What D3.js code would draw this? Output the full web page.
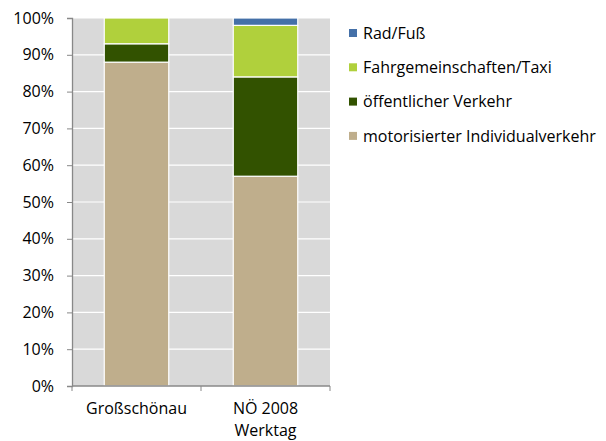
<!DOCTYPE html>
<html><head><meta charset="utf-8">
<script src="https://cdn.jsdelivr.net/npm/d3@7"></script>
<style>body{margin:0;background:#fff;}svg{display:block;font-family:"Open Sans",sans-serif;}</style>
</head><body><svg id="c" width="606" height="441"></svg>
<script>
const categories = [["Großschönau"], ["NÖ 2008", "Werktag"]];
const seriesNames = ["motorisierter Individualverkehr", "öffentlicher Verkehr", "Fahrgemeinschaften/Taxi", "Rad/Fuß"];
const seriesColors = ["#BFAE8C", "#325200", "#B0D03C", "#4470A8"];
const mivValues = [88, 57];
const oevValues = [5, 27];
const fahrValues = [7, 14];
const radValues = [0, 2];
const yTicks = [0, 10, 20, 30, 40, 50, 60, 70, 80, 90, 100];

const FS = 16;
const svg = d3.select("#c");
const pL = 72, pR = 330, pT = 18, pB = 386;
const x = d3.scaleBand().domain(categories.map((d, i) => i)).range([pL, pR]).paddingInner(0.5).paddingOuter(0.25);
const y = d3.scaleLinear().domain([0, 100]).range([pB, pT]);

svg.append("rect").attr("x", pL).attr("y", pT).attr("width", pR - pL).attr("height", pB - pT).attr("fill", "#D9D9D9");
svg.append("g").selectAll("line").data(yTicks.slice(1)).join("line")
  .attr("x1", pL).attr("x2", pR).attr("y1", d => y(d)).attr("y2", d => y(d))
  .attr("stroke", "#fff").attr("stroke-width", 1.2);

const table = categories.map((c, i) => ({ i, s0: mivValues[i], s1: oevValues[i], s2: fahrValues[i], s3: radValues[i] }));
const stack = d3.stack().keys(["s0", "s1", "s2", "s3"])(table);
svg.append("g").selectAll("g").data(stack).join("g").attr("fill", (d, k) => seriesColors[k])
  .selectAll("rect").data(d => d.filter(p => p[1] - p[0] > 0)).join("rect")
  .attr("x", d => x(d.data.i)).attr("width", x.bandwidth())
  .attr("y", d => y(d[1])).attr("height", d => y(d[0]) - y(d[1]))
  .attr("stroke", "#fff").attr("stroke-width", 1.2);

// axes
const ya = svg.append("g").attr("transform", `translate(${pL},0)`)
  .call(d3.axisLeft(y).tickValues(yTicks).tickFormat(d => d + "%").tickSize(5).tickPadding(13));
ya.select(".domain").attr("stroke", "#888").attr("stroke-width", 1.3);
ya.selectAll(".tick line").attr("stroke", "#888");
ya.selectAll("text").attr("font-size", FS).attr("fill", "#000").attr("font-family", "Open Sans");

const xa = d3.scaleLinear().domain([0, 2]).range([pL, pR]);
const g = svg.append("g");
g.append("line").attr("x1", pL).attr("x2", pR).attr("y1", pB).attr("y2", pB).attr("stroke", "#888").attr("stroke-width", 1.3);
g.selectAll("line.t").data([0, 1, 2]).join("line").attr("class", "t")
  .attr("x1", d => xa(d)).attr("x2", d => xa(d)).attr("y1", pB).attr("y2", pB + 5).attr("stroke", "#888");
const lbl = g.selectAll("text").data(categories).join("text")
  .attr("x", (d, i) => x(i) + x.bandwidth() / 2).attr("y", 414)
  .attr("text-anchor", "middle").attr("font-size", FS).attr("fill", "#000");
lbl.selectAll("tspan").data(d => d).join("tspan")
  .attr("x", function () { return d3.select(this.parentNode).attr("x"); })
  .attr("dy", (d, j) => j === 0 ? 0 : 22).text(d => d);

// legend
const legendOrder = [3, 2, 1, 0];
const lg = svg.append("g").selectAll("g").data(legendOrder).join("g")
  .attr("transform", (d, j) => `translate(349,${33 + j * 34.3})`);
lg.append("rect").attr("x", 0).attr("y", -4).attr("width", 8).attr("height", 8).attr("fill", d => seriesColors[d]);
lg.append("text").attr("x", 14).attr("y", 0).attr("dy", "0.35em").attr("font-size", FS).attr("fill", "#000").text(d => seriesNames[d]);
</script></body></html>
